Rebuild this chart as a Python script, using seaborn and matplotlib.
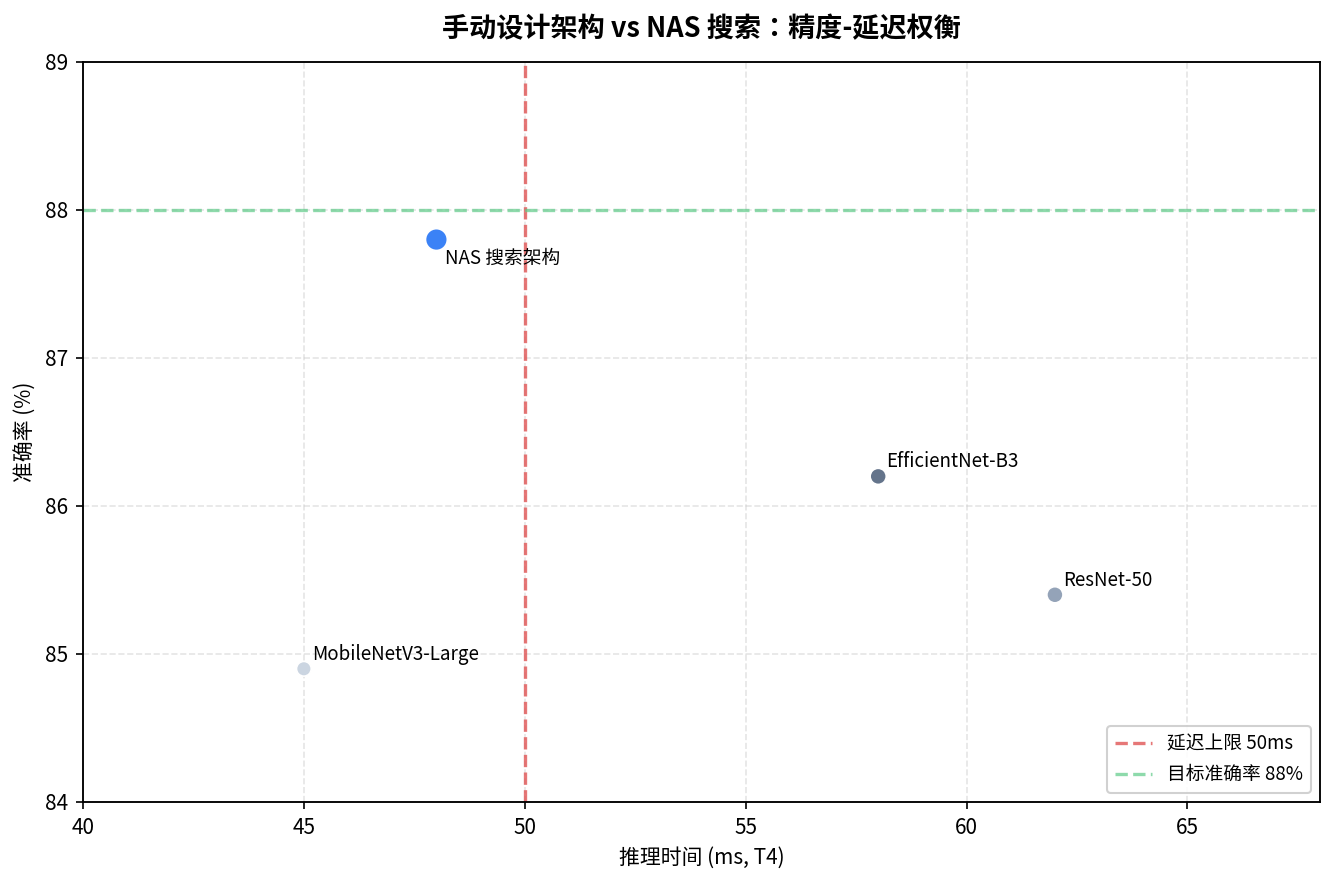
import pandas as pd
import matplotlib.pyplot as plt
import seaborn as sns

# Data
models = ['NAS 搜索架构', 'EfficientNet-B3', 'ResNet-50', 'MobileNetV3-Large']
latency = [48, 58, 62, 45]
accuracy = [87.8, 86.2, 85.4, 84.9]
colors = ['#3b82f6', '#64748b', '#94a3b8', '#cbd5e1']
sizes = [110, 60, 60, 50]
latency_limit = 50
target_acc = 88

sns.set_style('ticks')
plt.rcParams['font.family'] = ['Noto Sans CJK SC', 'DejaVu Sans']
plt.rcParams['text.color'] = 'black'
plt.rcParams['axes.labelcolor'] = 'black'
plt.rcParams['xtick.color'] = 'black'
plt.rcParams['ytick.color'] = 'black'

df = pd.DataFrame({'model': models, 'latency': latency, 'accuracy': accuracy})

fig, ax = plt.subplots(figsize=(1334 / 150, 885 / 150), dpi=150)
fig.subplots_adjust(left=0.0622, right=0.9895, top=0.930, bottom=0.0938)

sns.scatterplot(data=df, x='latency', y='accuracy', hue='model', palette=colors,
                size='model', sizes=dict(zip(models, sizes)), edgecolor='white',
                linewidth=0.8, legend=False, ax=ax, zorder=3)

ax.axvline(latency_limit, color='#e05555', alpha=0.8, linestyle='--', linewidth=1.6,
           label=f'延迟上限 {latency_limit}ms', zorder=2)
ax.axhline(target_acc, color='#5fcb88', alpha=0.7, linestyle='--', linewidth=1.6,
           label=f'目标准确率 {target_acc}%', zorder=2)

# Labels next to points
for name, x, y in zip(models, latency, accuracy):
    if name == models[0]:
        ax.annotate(name, (x, y), xytext=(4, -4), textcoords='offset points',
                    ha='left', va='top', fontsize=9)
    else:
        ax.annotate(name, (x, y), xytext=(4, 2), textcoords='offset points',
                    ha='left', va='bottom', fontsize=9)

ax.set_xlim(40, 68)
ax.set_ylim(84, 89)
ax.set_xlabel('推理时间 (ms, T4)', fontsize=10)
ax.set_ylabel('准确率 (%)', fontsize=10)
ax.set_title('手动设计架构 vs NAS 搜索：精度-延迟权衡', fontsize=13,
             fontweight='bold', pad=12, family=['Noto Sans CJK TC', 'DejaVu Sans'])
ax.grid(True, linestyle='--', color='#cccccc', alpha=0.5, linewidth=0.8)
ax.tick_params(labelsize=10)
for s in ax.spines.values():
    s.set_color('black')
    s.set_linewidth(0.9)
ax.legend(loc='lower right', fontsize=9, framealpha=0.9)

plt.savefig('out.png', dpi=150)
plt.close('all')
